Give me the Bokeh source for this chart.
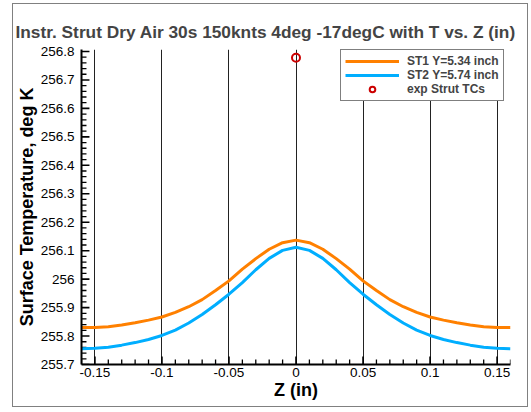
import numpy as np
from bokeh.plotting import figure
from bokeh.models import Range1d, FixedTicker, Legend, LegendItem, ColumnDataSource
from bokeh.embed import file_html
from bokeh.resources import INLINE

# ---- data ----
z_in = [-0.16, -0.15, -0.14, -0.13, -0.12, -0.11, -0.10, -0.09, -0.08, -0.07, -0.06,
        -0.05, -0.04, -0.03, -0.02, -0.01, 0.0, 0.01, 0.02, 0.03, 0.04, 0.05,
        0.06, 0.07, 0.08, 0.09, 0.10, 0.11, 0.12, 0.13, 0.14, 0.15, 0.16]
st1_temp = [255.830, 255.830, 255.833, 255.839, 255.847, 255.856, 255.867, 255.883, 255.903,
            255.928, 255.960, 255.994, 256.035, 256.072, 256.105, 256.128, 256.137,
            256.128, 256.105, 256.072, 256.035, 255.994, 255.960, 255.928, 255.903,
            255.883, 255.867, 255.856, 255.847, 255.839, 255.833, 255.830, 255.830]
st2_temp = [255.755, 255.757, 255.761, 255.768, 255.777, 255.788, 255.802, 255.821, 255.846,
            255.876, 255.910, 255.947, 255.988, 256.033, 256.073, 256.101, 256.112,
            256.101, 256.073, 256.033, 255.988, 255.947, 255.910, 255.876, 255.846,
            255.821, 255.802, 255.788, 255.777, 255.768, 255.761, 255.757, 255.755]
exp_z = [0.0]
exp_temp = [256.778]

x_ticks = [-0.15, -0.1, -0.05, 0.0, 0.05, 0.1, 0.15]
x_labels = ["-0.15", "-0.1", "-0.05", "0", "0.05", "0.1", "0.15"]
y_ticks = [255.7, 255.8, 255.9, 256.0, 256.1, 256.2, 256.3, 256.4, 256.5, 256.6, 256.7, 256.8]
y_labels = ["255.7", "255.8", "255.9", "256", "256.1", "256.2", "256.3", "256.4",
            "256.5", "256.6", "256.7", "256.8"]

title_text = "Instr. Strut Dry Air 30s 150knts 4deg -17degC with T vs. Z (in)"
legend_labels = ["ST1 Y=5.34 inch", "ST2 Y=5.74 inch", "exp Strut TCs"]

FONT = "Liberation Sans"
X0, X1 = -0.16, 0.16
Y0, Y1 = 255.7, 256.807

p = figure(width=516, height=404, output_backend="svg", toolbar_location=None,
           x_range=Range1d(X0, X1), y_range=Range1d(Y0, Y1),
           min_border_left=66, min_border_right=19, min_border_top=45, min_border_bottom=44,
           margin=(3, 0, 0, 12))
p.styles = {"border": "1px solid #808080"}
p.outline_line_color = None
p.background_fill_color = "white"
p.border_fill_color = "white"

p.title.text = title_text
p.title.text_font = FONT
p.title.text_font_size = "17.3px"
p.title.text_font_style = "bold"
p.title.align = "left"
p.title.offset = -66
p.title.standoff = 15

p.xaxis.ticker = FixedTicker(ticks=x_ticks)
p.yaxis.ticker = FixedTicker(ticks=y_ticks)
p.xaxis.major_label_overrides = {t: l for t, l in zip(x_ticks, x_labels)}
p.yaxis.major_label_overrides = {t: l for t, l in zip(y_ticks, y_labels)}

for ax in (p.xaxis[0], p.yaxis[0]):
    ax.axis_line_color = "black"
    ax.axis_line_width = 2
    ax.major_tick_in = 0
    ax.major_tick_out = 0
    ax.minor_tick_in = 0
    ax.minor_tick_out = 0
    ax.major_label_text_font = FONT
    ax.major_label_text_font_size = "13.5px"
    ax.major_label_text_color = "black"
    ax.axis_label_text_font = FONT
    ax.axis_label_text_font_size = "18px"
    ax.axis_label_text_font_style = "bold"
    ax.axis_label_text_color = "black"

p.xaxis.axis_label = "Z (in)"
p.yaxis.axis_label = "Surface Temperature, deg K"
p.xaxis.major_label_standoff = 3
p.yaxis.major_label_standoff = 7
p.xaxis.axis_label_standoff = 0
p.yaxis.axis_label_standoff = 1

p.xgrid.grid_line_color = "#222222"
p.xgrid.grid_line_width = 1
p.xgrid.ticker = FixedTicker(ticks=x_ticks)
p.ygrid.grid_line_color = None

# inward tick marks drawn as segments (pixel lengths converted to data units)
frame_w, frame_h = 431.0, 311.0
dx_px = (X1 - X0) / frame_w
dy_px = (Y1 - Y0) / frame_h
x_minor = [float(v) for v in np.round(np.arange(-0.16, 0.1601, 0.01), 3)
           if not np.any(np.isclose(v, x_ticks))]
y_minor = [float(v) for v in np.round(np.arange(255.7, 256.801, 0.02), 3)
           if not np.any(np.isclose(v, y_ticks))]
TICK_MAJ, TICK_MIN = 8, 5

xs_maj = ColumnDataSource(dict(x0=x_ticks, y0=[Y0] * len(x_ticks), x1=x_ticks,
                               y1=[Y0 + TICK_MAJ * dy_px] * len(x_ticks)))
xs_min = ColumnDataSource(dict(x0=x_minor, y0=[Y0] * len(x_minor), x1=x_minor,
                               y1=[Y0 + TICK_MIN * dy_px] * len(x_minor)))
ys_maj = ColumnDataSource(dict(x0=[X0] * len(y_ticks), y0=y_ticks,
                               x1=[X0 + TICK_MAJ * dx_px] * len(y_ticks), y1=y_ticks))
ys_min = ColumnDataSource(dict(x0=[X0] * len(y_minor), y0=y_minor,
                               x1=[X0 + TICK_MIN * dx_px] * len(y_minor), y1=y_minor))
for src, w in ((xs_maj, 1.6), (xs_min, 1.3), (ys_maj, 1.6), (ys_min, 1.3)):
    p.segment(x0="x0", y0="y0", x1="x1", y1="y1", source=src, line_color="black", line_width=w)

r1 = p.line(z_in, st1_temp, line_color="#FF8000", line_width=3)
r2 = p.line(z_in, st2_temp, line_color="#00AEFF", line_width=3)
r3 = p.scatter(exp_z, exp_temp, marker="circle", size=8, fill_color=None,
               line_color="#CC0000", line_width=2)

legend = Legend(items=[LegendItem(label=legend_labels[0], renderers=[r1]),
                       LegendItem(label=legend_labels[1], renderers=[r2]),
                       LegendItem(label=legend_labels[2], renderers=[r3])],
                location=(259, 263))
legend.label_text_font = FONT
legend.label_text_font_size = "12px"
legend.label_text_font_style = "bold"
legend.glyph_width = 54
legend.glyph_height = 14
legend.label_height = 14
legend.spacing = 0
legend.padding = 4
legend.margin = 0
legend.label_standoff = 8
legend.border_line_color = "black"
legend.border_line_width = 1
legend.background_fill_alpha = 1
p.add_layout(legend)

open("out.html", "w").write(file_html(p, INLINE))
